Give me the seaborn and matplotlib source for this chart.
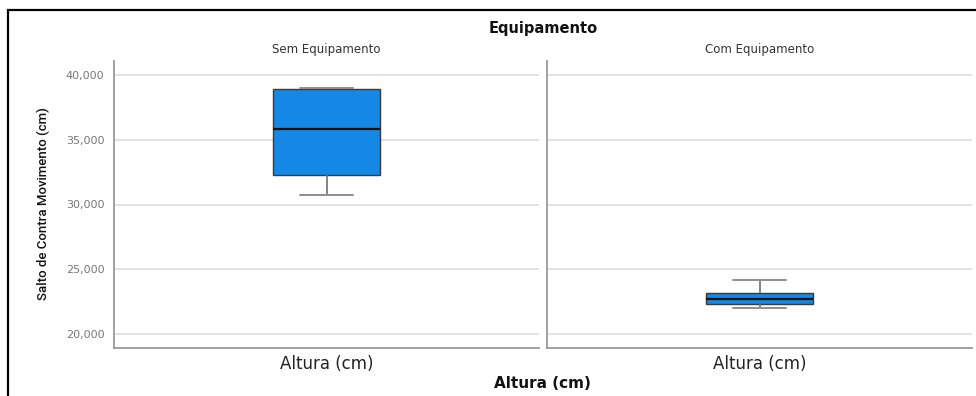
import matplotlib
matplotlib.use("Agg")
import matplotlib.pyplot as plt
import seaborn as sns
import pandas as pd
from matplotlib.ticker import FuncFormatter, FixedLocator
from matplotlib.patches import Rectangle

# ---- data (cm) ----
panels = ["Sem Equipamento", "Com Equipamento"]
sem_equipamento = [30.7, 32.3, 35.8, 38.95, 39.0]
com_equipamento = [22.0, 22.3, 22.7, 23.15, 24.15]
x_category = "Altura (cm)"
y_ticks = [20, 25, 30, 35, 40]

df = pd.DataFrame({
    "Equipamento": [panels[0]] * len(sem_equipamento) + [panels[1]] * len(com_equipamento),
    "Altura": [x_category] * (len(sem_equipamento) + len(com_equipamento)),
    "Salto": sem_equipamento + com_equipamento,
})

sns.set_style("white")
plt.rcParams["font.family"] = ["DejaVu Sans"]

fig = plt.figure(figsize=(9.76, 3.96), dpi=100)
W, H = 976, 396
def ax_rect(x0, x1, y0, y1):
    return [x0 / W, 1 - y1 / H, (x1 - x0) / W, (y1 - y0) / H]

ax1 = fig.add_axes(ax_rect(114, 539, 61, 348))
ax2 = fig.add_axes(ax_rect(547, 972, 61, 348), sharey=ax1)

box_color = "#1488e4"
fmt = FuncFormatter(lambda v, p: f"{v:.3f}".replace(".", ","))

for ax, name in zip([ax1, ax2], panels):
    sub = df[df["Equipamento"] == name]
    sns.boxplot(data=sub, x="Altura", y="Salto", ax=ax, width=0.254,
                color=box_color, saturation=1, linecolor="#3a3a3a", linewidth=1,
                whiskerprops=dict(color="#6e6e6e", linewidth=1.2),
                capprops=dict(color="#8f8f8f", linewidth=1.4),
                medianprops=dict(color="#111111", linewidth=1.6),
                showfliers=False, zorder=3)
    ax.set_xlim(-0.5, 0.5)
    ax.set_ylim(18.92, 41.08)
    ax.yaxis.set_major_locator(FixedLocator(y_ticks))
    ax.yaxis.set_major_formatter(fmt)
    ax.grid(axis="y", color="#e2e2e2", linewidth=1.4, zorder=0)
    ax.set_axisbelow(True)
    for s in ["top", "right"]:
        ax.spines[s].set_visible(False)
    for s in ["left", "bottom"]:
        ax.spines[s].set_color("#9a9a9a")
        ax.spines[s].set_linewidth(1.3)
    ax.tick_params(axis="x", length=0, labelsize=12, labelcolor="#222222", pad=5)
    ax.tick_params(axis="y", length=3, color="#d5d5d5", labelsize=8, labelcolor="#777777", pad=4)
    ax.set_xlabel("")
    ax.set_ylabel("")
    ax.set_title(name, fontsize=8.5, color="#333333", pad=6)

ax2.tick_params(axis="y", labelleft=False, length=0)
ax1.set_ylabel("Salto de Contra Movimento (cm)", fontsize=9.5, color="#111111",
               family=["Roboto", "DejaVu Sans"], fontweight="medium")
ax1.yaxis.set_label_coords(-0.151, 0.505)

fig.text(543 / W, 1 - 29 / H, "Equipamento", ha="center", va="center",
         fontsize=10.5, fontweight="bold", color="#111111")
fig.text(542 / W, 1 - 383 / H, "Altura (cm)", ha="center", va="center",
         fontsize=11, fontweight="bold", color="#111111")

border = Rectangle((8 / W, -0.05), 1.2, 1 - 10 / H + 0.05, transform=fig.transFigure,
                   fill=False, edgecolor="black", linewidth=1.6, clip_on=False)
fig.patches.append(border)

fig.savefig("out.png", dpi=100, facecolor="white")
